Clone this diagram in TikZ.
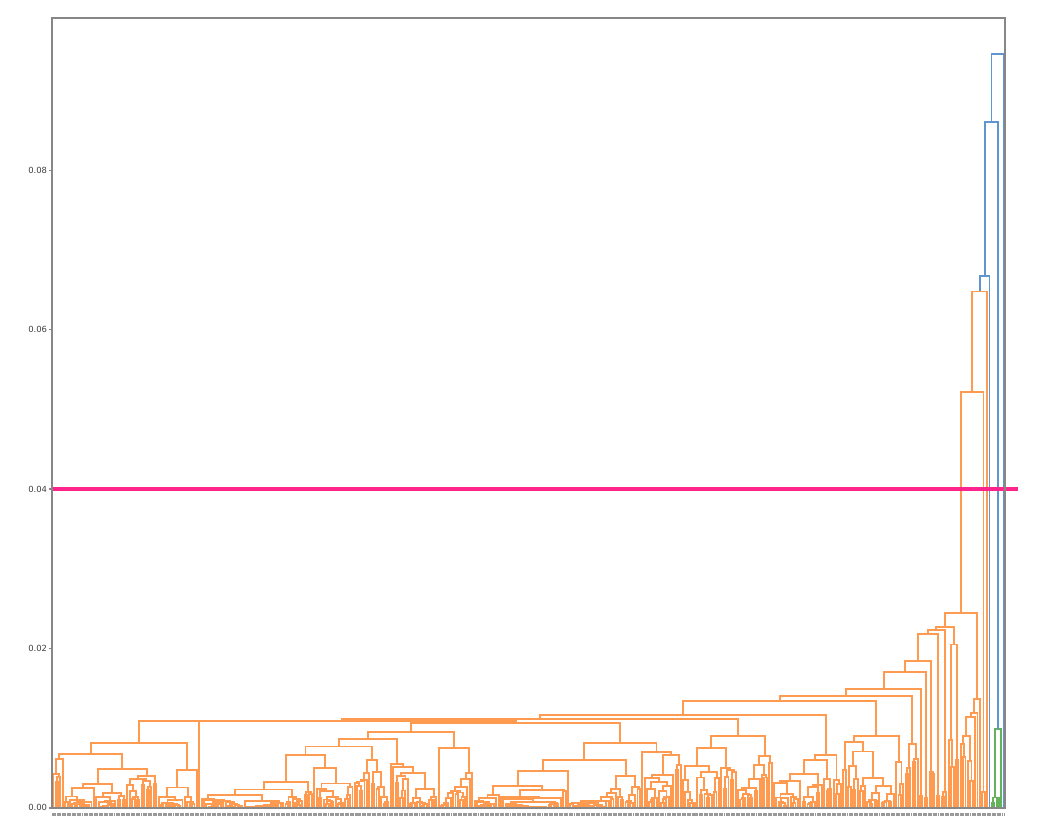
\documentclass[tikz,border=0pt]{standalone}
\usepackage{fontspec}
\setmainfont{DejaVu Sans}
\usepackage{xcolor}
\usetikzlibrary{calc}

\definecolor{dorange}{RGB}{255,155,80}
\definecolor{dblue}{RGB}{95,150,205}
\definecolor{dgreen}{RGB}{100,178,90}
\definecolor{cutpink}{RGB}{255,35,140}
\definecolor{spinegray}{RGB}{135,135,135}

\tikzset{
  branch/.style={line width=1.1pt, line join=miter},
  cutline/.style={cutpink, line width=2.3pt},
  spine/.style={spinegray, line width=0.8pt},
  ticklabel/.style={anchor=east, text=black!75, inner sep=0pt, font=\fontsize{4.8}{5}\selectfont}
}

% join two clusters #2 and #3 at height #4, name the new cluster #1
\newcommand\dlink[4]{%
  \draw (#2) |- (#3 |- 0,#4) -- (#3);
  \coordinate (#1) at ($(#2 |- 0,#4)!0.5!(#3 |- 0,#4)$);}

% random subtree over leaves #1..#2 with its top at #3
\newcommand\randtree[3]{%
  \ifnum#1<#2\relax
    \begingroup
      \pgfmathsetmacro\rtpick{rnd}%
      \pgfmathtruncatemacro\rtcut{\rtpick<0.25 ? #2-1 : (\rtpick<0.4 ? #1 : #1+floor(rnd*(#2-#1)))}%
      \pgfmathtruncatemacro\rtcutp{\rtcut+1}%
      \pgfmathsetmacro\rtleft{#3*(0.5+0.45*rnd)}%
      \pgfmathsetmacro\rtright{#3*(0.5+0.45*rnd)}%
      \edef\rtnext{\noexpand\randtree{#1}{\rtcut}{\rtleft}%
        \noexpand\randtree{\rtcutp}{#2}{\rtright}%
        \noexpand\dlink{c#1x#2}{c#1x\rtcut}{c\rtcutp x#2}{#3}}%
    \expandafter\endgroup\rtnext
  \fi}

\newcommand\leafgroup[4]{\randtree{#2}{#3}{#4}\coordinate (#1) at (c#2x#3);}

\begin{document}
\begin{tikzpicture}[x=0.04789cm,y=0.1594cm]
\useasboundingbox (-21.72,-2.509) rectangle (414.28,101.38);
\pgfmathsetseed{977}
\foreach \i in {0,...,397} {\coordinate (c\i x\i) at (\i+0.5,0);}

\begin{scope}[branch, dorange]
\leafgroup{leftA}{0}{4}{6.1}
\leafgroup{leftBa}{5}{30}{3.0}
\leafgroup{leftBb}{31}{43}{4.0}
\dlink{leftB}{leftBa}{leftBb}{4.9}
\dlink{leftAB}{leftA}{leftB}{6.7}
\leafgroup{leftC}{44}{60}{4.8}
\dlink{leftABC}{leftAB}{leftC}{8.1}
\dlink{leftall}{leftABC}{c61x61}{10.9}
\leafgroup{midA}{62}{108}{3.2}
\leafgroup{midB}{109}{125}{5.0}
\dlink{midAB}{midA}{midB}{6.6}
\leafgroup{midC}{126}{140}{6.0}
\dlink{midABC}{midAB}{midC}{7.7}
\leafgroup{midD}{141}{160}{5.5}
\dlink{midABCD}{midABC}{midD}{8.6}
\leafgroup{midE}{161}{175}{7.5}
\dlink{midleft}{midABCD}{midE}{9.5}
\leafgroup{midFa}{176}{215}{4.6}
\leafgroup{midFb}{216}{245}{4.0}
\dlink{midF}{midFa}{midFb}{6.0}
\leafgroup{midG}{246}{262}{7.0}
\dlink{midright}{midF}{midG}{8.1}
\dlink{midall}{midleft}{midright}{10.6}
\dlink{joinX}{leftall}{midall}{10.95}
\leafgroup{nearA}{263}{285}{7.5}
\leafgroup{nearB}{286}{300}{6.5}
\dlink{nearall}{nearA}{nearB}{9.0}
\dlink{joinY}{joinX}{nearall}{11.1}
\leafgroup{farA}{301}{329}{6.6}
\dlink{joinZ}{joinY}{farA}{11.6}
\leafgroup{stepA}{330}{355}{9.0}
\dlink{chainA}{joinZ}{stepA}{13.4}
\leafgroup{stepB}{356}{361}{8.0}
\dlink{chainB}{chainA}{stepB}{14.0}
\leafgroup{stepC}{362}{363}{1.5}
\dlink{chainC}{chainB}{stepC}{14.9}
\leafgroup{stepD}{364}{365}{1.2}
\dlink{chainD}{chainC}{stepD}{17.1}
\leafgroup{stepE}{366}{368}{4.5}
\dlink{chainE}{chainD}{stepE}{18.4}
\leafgroup{stepF}{369}{370}{1.5}
\dlink{chainF}{chainE}{stepF}{21.8}
\leafgroup{stepG}{371}{373}{2.0}
\dlink{chainG}{chainF}{stepG}{22.3}
\leafgroup{stepHa}{374}{376}{8.5}
\leafgroup{stepHb}{377}{378}{6.0}
\dlink{stepH}{stepHa}{stepHb}{20.5}
\dlink{chainH}{chainG}{stepH}{22.7}
\leafgroup{lowE}{379}{384}{9.0}
\dlink{eTwo}{lowE}{c385x385}{11.4}
\dlink{eThree}{eTwo}{c386x386}{11.9}
\dlink{eTop}{eThree}{c387x387}{13.6}
\dlink{chainI}{chainH}{eTop}{24.5}
\leafgroup{tailC}{388}{389}{2.0}
\dlink{chainJ}{chainI}{tailC}{52.2}
\dlink{orangetop}{chainJ}{c390x390}{64.8}
\end{scope}

\begin{scope}[branch, dgreen]
\leafgroup{greenA}{392}{395}{1.3}
\dlink{greentop}{greenA}{c396x396}{9.9}
\end{scope}

\begin{scope}[branch, dblue]
\dlink{blueA}{orangetop}{c391x391}{66.7}
\dlink{blueB}{blueA}{greentop}{86.1}
\dlink{blueC}{blueB}{c397x397}{94.6}
\end{scope}

% cut line
\draw[cutline] (0,40) -- (403.4,40);

% frame, ticks, leaf label strip
\draw[spine] (0,0) rectangle (398,99.12);
\draw[spinegray, line width=1.3pt] (0,0) -- (0,99.12);
\foreach \v/\t in {0/0.00,20/0.02,40/0.04,60/0.06,80/0.08} {
  \draw[spine] (-1.4,\v) -- (0,\v);
  \node[ticklabel] (tick\v) at (-1.9,\v) {\t};
}
\draw[black!40, line width=1.4pt, dash pattern=on 1.1pt off 0.3pt] (0,-0.85) -- (398,-0.85);
\end{tikzpicture}
\end{document}
